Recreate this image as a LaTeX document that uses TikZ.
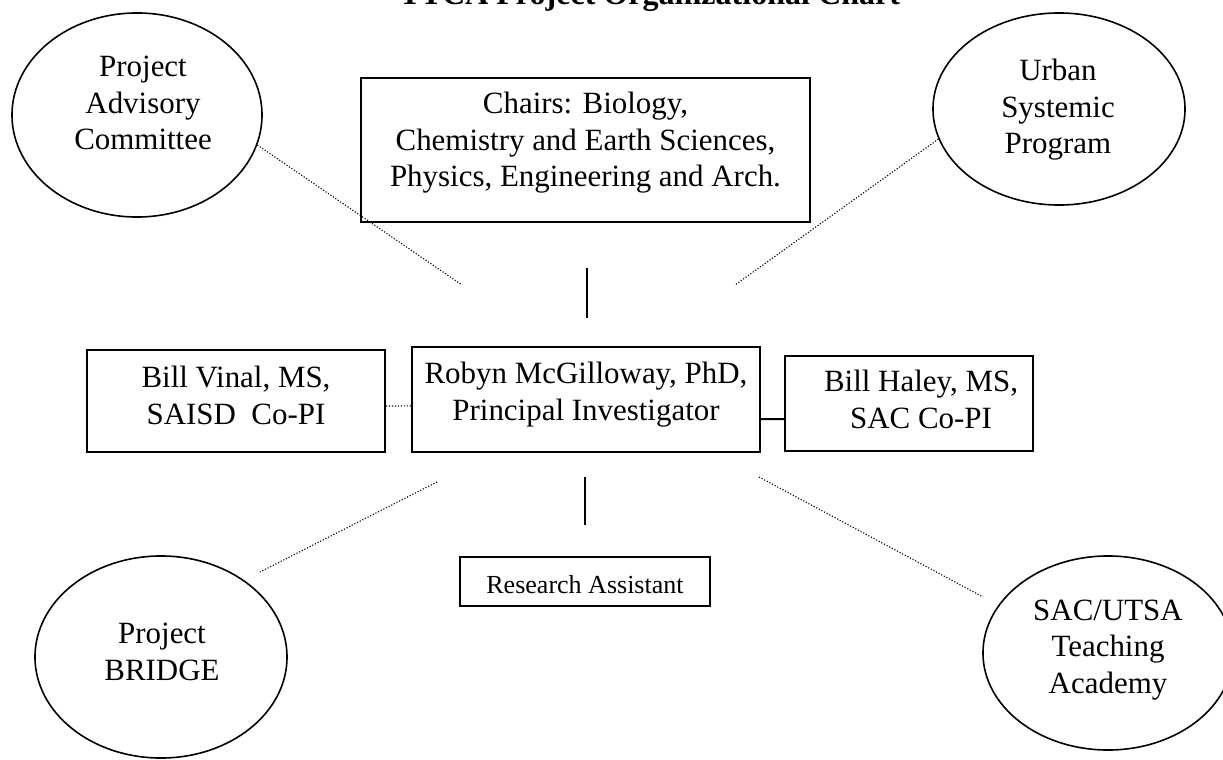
\documentclass[tikz,border=0pt]{standalone}
\usepackage{fontspec}
\setmainfont{Liberation Serif}
\usepackage{tikz}
\usetikzlibrary{shapes.geometric}

\newcommand{\orgfont}{\fontsize{22}{26}\selectfont}
\newcommand{\rafont}{\fontsize{18.5}{22}\selectfont}
\newcommand{\titlefont}{\fontsize{22.8}{26}\selectfont\bfseries}

\tikzset{
  orgbox/.style={draw, line width=0.05cm, inner sep=0cm, font=\orgfont},
  blob/.style={draw, ellipse, line width=0.04cm, inner sep=0cm},
  blobtext/.style={font=\orgfont, align=center, inner sep=0cm},
  dotline/.style={line width=0.8pt, dash pattern=on 0.8pt off 1.3pt},
  barline/.style={line width=0.05cm}
}

\begin{document}
\begin{tikzpicture}[x=0.025cm, y=0.025cm]

\clip (0,0) rectangle (1223,-760);

% title, cut off at the top of the page
\node[font=\titlefont, anchor=base west, inner sep=0cm] (title)
  at (399,-5) {TTCA Project Organizational Chart};

% the four ovals
\node[blob, minimum width=6.25cm, minimum height=5.1cm] (pac) at (137,-115) {};
\node[blobtext] (pactext) at (143,-103) {Project\\Advisory\\Committee};

\node[blob, minimum width=6.3cm, minimum height=4.8cm] (usp) at (1059,-109) {};
\node[blobtext] (usptext) at (1058,-110) {Urban\\Systemic\\Program};

\node[blob, minimum width=6.3cm, minimum height=5.05cm] (bridge) at (161,-657) {};
\node[blobtext] (bridgetext) at (162,-652) {Project\\BRIDGE};

\node[blob, minimum width=6.25cm, minimum height=4.85cm] (sac) at (1108,-653) {};
\node[blobtext] (sactext) at (1108,-650) {SAC/UTSA\\Teaching\\Academy};

% the boxes
\node[orgbox] (chairs) at (585.5,-150) {%
\begin{minipage}[t][3.6cm]{11.2cm}
\centering
\vspace*{0.35cm}
Chairs: Biology,\\
Chemistry and Earth Sciences,\\
Physics, Engineering and Arch.
\end{minipage}%
};
\node[orgbox] (vinal) at (236,-401) {%
\begin{minipage}[t][2.55cm]{7.45cm}
\centering
\vspace*{0.4cm}
Bill Vinal, MS,\\
SAISD\ \ Co-PI
\end{minipage}%
};
\node[orgbox] (robyn) at (586,-399.5) {%
\begin{minipage}[t][2.625cm]{8.7cm}
\centering
\vspace*{0.375cm}
Robyn McGilloway, PhD,\\
Principal Investigator
\end{minipage}%
};
\node[orgbox] (haley) at (909,-403.5) {%
\begin{minipage}[t][2.375cm]{6.2cm}
\centering
\vspace*{0.35cm}
\hspace*{0.6cm}Bill Haley, MS,\\
\hspace*{0.6cm}SAC Co-PI
\end{minipage}%
};
\node[orgbox, font=\rafont] (ra) at (585,-581.5) {%
\begin{minipage}[t][1.225cm]{6.25cm}
\centering
\vspace*{0.45cm}
Research Assistant
\end{minipage}%
};

% free ends of the links
\coordinate (pacend) at (462,-285);
\coordinate (uspend) at (735,-285);
\coordinate (chairsbar) at (587,-268);
\coordinate (robynbar) at (587,-318);
\coordinate (rabar) at (585,-477);
\coordinate (robynfoot) at (585,-525);
\coordinate (bridgeend) at (437,-482);
\coordinate (bridgestart) at (260,-572);
\coordinate (sacend) at (759,-477);
\coordinate (sacstart) at (983,-597);

% links
\draw[dotline] (pac.-14) -- (pacend);
\draw[dotline] (usp.194) -- (uspend);
\draw[barline] (chairsbar) -- (robynbar);
\draw[dotline] ([yshift=-0.125cm]vinal.east) -- ([yshift=-0.16cm]robyn.west);
\draw[barline] ([yshift=-0.49cm]robyn.east) -- ([yshift=-0.39cm]haley.west);
\draw[barline] (rabar) -- (robynfoot);
\draw[dotline] (bridgeend) -- (bridgestart);
\draw[dotline] (sacend) -- (sacstart);

\end{tikzpicture}
\end{document}
